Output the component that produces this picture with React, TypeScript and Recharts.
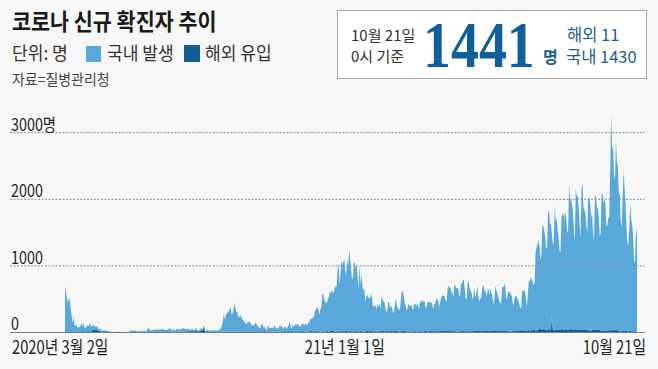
import React from 'react';
import { AreaChart, Area, XAxis, YAxis, ReferenceLine } from 'recharts';

const KR = "'Noto Sans CJK KR', 'Noto Sans', sans-serif";
const LIGHT = '#58a8da';
const DARK = '#125d98';

// daily confirmed cases (total), from 2020-03-02 to 2021-10-21
const total2020_03 = [686, 600, 516, 438, 518, 483, 367, 248, 131, 242, 114, 110, 107, 76, 74, 84, 93, 152, 87, 147, 98, 64, 76, 100, 104, 91, 146, 105, 78, 125];
const total2020_04 = [101, 89, 86, 94, 81, 47, 47, 53, 39, 27, 30, 32, 25, 27, 27, 22, 22, 18, 8, 8, 13, 9, 11, 8, 6, 10, 10, 14, 9, 4];
const total2020_05 = [9, 6, 13, 8, 3, 2, 4, 12, 18, 34, 35, 27, 26, 29, 27, 19, 13, 15, 13, 32, 12, 20, 23, 25, 16, 19, 40, 79, 58, 39, 27];
const total2020_06 = [35, 38, 49, 39, 39, 51, 57, 38, 38, 50, 45, 56, 49, 37, 34, 37, 43, 59, 49, 67, 48, 17, 46, 51, 28, 39, 51, 62, 42, 43];
const total2020_07 = [51, 54, 63, 63, 61, 48, 44, 63, 50, 45, 35, 44, 62, 33, 39, 61, 60, 39, 34, 26, 45, 63, 59, 41, 113, 58, 25, 28, 48, 18, 36];
const total2020_08 = [31, 30, 23, 34, 33, 43, 20, 36, 28, 34, 54, 56, 103, 166, 279, 197, 246, 297, 288, 324, 332, 397, 266, 280, 320, 441, 371, 323, 299, 248, 238];
const total2020_09 = [235, 267, 195, 198, 168, 167, 119, 136, 156, 155, 176, 136, 121, 109, 106, 113, 153, 126, 110, 82, 70, 61, 110, 125, 114, 61, 95, 50, 38, 113];
const total2020_10 = [77, 63, 75, 64, 73, 75, 114, 69, 54, 72, 58, 97, 102, 84, 110, 47, 73, 91, 76, 58, 89, 121, 155, 77, 61, 119, 88, 103, 125, 114, 127];
const total2020_11 = [124, 97, 75, 118, 125, 145, 89, 143, 126, 100, 146, 143, 191, 205, 208, 223, 230, 313, 343, 363, 386, 330, 271, 349, 382, 583, 569, 504, 450, 438];
const total2020_12 = [451, 511, 540, 629, 583, 631, 615, 594, 686, 682, 689, 950, 1030, 718, 880, 1078, 1014, 1064, 1097, 926, 869, 1092, 985, 1241, 1132, 970, 807, 808, 1045, 1050, 967];
const total2021_01 = [1029, 820, 657, 1020, 715, 870, 674, 641, 657, 451, 537, 562, 524, 513, 520, 580, 520, 389, 386, 404, 400, 346, 431, 392, 437, 349, 559, 497, 469, 456, 355];
const total2021_02 = [305, 336, 467, 451, 370, 393, 372, 289, 303, 444, 504, 403, 362, 344, 326, 457, 621, 621, 561, 448, 416, 332, 357, 440, 396, 406, 415, 355];
const total2021_03 = [344, 444, 424, 398, 424, 416, 346, 446, 470, 465, 488, 459, 469, 382, 363, 469, 445, 463, 452, 456, 415, 346, 428, 430, 494, 505, 482, 382, 447, 506, 551];
const total2021_04 = [557, 543, 543, 473, 477, 668, 700, 671, 677, 614, 587, 542, 731, 698, 673, 658, 672, 532, 549, 731, 735, 797, 785, 644, 499, 512, 769, 775, 661, 627];
const total2021_05 = [606, 488, 541, 676, 525, 574, 701, 564, 463, 511, 511, 635, 715, 681, 610, 619, 528, 654, 646, 561, 666, 585, 530, 415, 516, 707, 629, 587, 533, 480, 430];
const total2021_06 = [459, 677, 681, 695, 744, 556, 485, 602, 611, 610, 565, 556, 452, 399, 545, 540, 545, 507, 482, 429, 357, 395, 645, 610, 634, 614, 501, 382, 595, 794];
const total2021_07 = [762, 826, 794, 743, 711, 746, 1212, 1275, 1316, 1378, 1324, 1100, 1150, 1615, 1600, 1536, 1454, 1252, 1278, 1784, 1842, 1630, 1629, 1487, 1318, 1363, 1896, 1674, 1710, 1539, 1442];
const total2021_08 = [1219, 1202, 1725, 1775, 1776, 1704, 1823, 1728, 1492, 1537, 2223, 1987, 1990, 1930, 1817, 1556, 1372, 2152, 2050, 2052, 1880, 1628, 1418, 2155, 2236, 1882, 1841, 1793, 1619, 1487, 2024];
const total2021_09 = [2025, 1961, 1709, 1804, 1490, 1375, 2050, 2049, 1892, 1865, 1755, 1433, 1497, 2080, 2079, 1943, 2008, 1910, 1604, 1605, 1729, 1720, 2434, 3273, 2771, 2769, 2383, 2289, 2885, 2564];
const total2021_10 = [2486, 2085, 2086, 1673, 1575, 2028, 2427, 2175, 1953, 1594, 1297, 1347, 1583, 1940, 1684, 1618, 1420, 1050, 1073, 1571, 1441];

// imported cases (해외 유입)
const abroad2020_03 = [0, 1, 0, 2, 1, 1, 0, 2, 3, 4, 4, 6, 7, 8, 6, 13, 15, 18, 14, 22, 14, 13, 16, 21, 15, 20, 24, 11, 18, 36];
const abroad2020_04 = [36, 38, 40, 36, 29, 25, 24, 12, 16, 14, 18, 17, 17, 11, 9, 9, 8, 4, 3, 4, 5, 3, 2, 4, 4, 2, 4, 3, 2, 2];
const abroad2020_05 = [6, 3, 5, 5, 2, 2, 2, 1, 1, 1, 2, 1, 4, 2, 3, 4, 2, 5, 2, 6, 3, 3, 2, 3, 0, 6, 4, 0, 3, 0, 2];
const abroad2020_06 = [3, 3, 3, 6, 2, 1, 0, 1, 1, 3, 3, 4, 7, 6, 6, 3, 2, 4, 10, 8, 3, 6, 9, 10, 10, 8, 8, 20, 13, 11];
const abroad2020_07 = [15, 10, 10, 14, 18, 12, 11, 18, 6, 24, 26, 14, 21, 20, 13, 22, 26, 21, 16, 14, 26, 23, 25, 43, 86, 33, 13, 5, 25, 10, 16];
const abroad2020_08 = [13, 11, 12, 20, 10, 14, 7, 9, 8, 6, 6, 10, 13, 11, 12, 12, 9, 13, 5, 12, 8, 10, 7, 6, 12, 7, 7, 7, 7, 15, 12];
const abroad2020_09 = [9, 11, 6, 10, 2, 14, 11, 8, 4, 11, 15, 15, 15, 7, 7, 8, 11, 21, 12, 14, 5, 12, 11, 9, 8, 15, 22, 12, 11, 14];
const abroad2020_10 = [13, 7, 11, 9, 12, 9, 12, 12, 7, 16, 14, 6, 11, 7, 12, 6, 21, 18, 11, 11, 26, 18, 8, 21, 31, 18, 3, 13, 6, 11, 8];
const abroad2020_11 = [19, 21, 13, 15, 20, 21, 17, 11, 16, 11, 18, 18, 11, 22, 32, 16, 15, 18, 9, 24, 23, 15, 16, 11, 7, 16, 14, 20, 9, 13];
const abroad2020_12 = [31, 20, 9, 29, 23, 24, 25, 26, 7, 20, 17, 16, 11, 20, 17, 16, 22, 19, 19, 19, 32, 20, 15, 10, 27, 19, 19, 20, 10, 28, 20];
const abroad2021_01 = [16, 25, 16, 11, 30, 11, 16, 15, 16, 15, 31, 25, 16, 22, 32, 27, 25, 13, 19, 18, 20, 16, 13, 35, 11, 24, 28, 28, 20, 19, 19];
const abroad2021_02 = [22, 18, 20, 15, 23, 26, 19, 19, 19, 37, 27, 20, 16, 18, 10, 14, 17, 27, 28, 18, 14, 19, 16, 19, 12, 12, 20, 11];
const abroad2021_03 = [11, 24, 18, 13, 18, 13, 11, 18, 26, 10, 8, 18, 19, 21, 21, 18, 12, 18, 22, 27, 31, 15, 20, 13, 23, 18, 17, 17, 17, 24, 20];
const abroad2021_04 = [30, 28, 31, 18, 24, 27, 25, 23, 23, 14, 24, 16, 18, 21, 20, 15, 15, 18, 18, 19, 20, 33, 16, 16, 18, 21, 15, 18, 24, 10];
const abroad2021_05 = [22, 16, 29, 31, 22, 26, 34, 21, 21, 19, 27, 23, 31, 17, 22, 28, 33, 32, 13, 36, 22, 26, 34, 23, 24, 21, 32, 22, 18, 24, 18];
const abroad2021_06 = [22, 23, 23, 21, 26, 25, 12, 30, 19, 13, 19, 17, 20, 18, 22, 28, 18, 25, 31, 28, 46, 21, 24, 24, 22, 33, 25, 27, 34, 32];
const abroad2021_07 = [24, 36, 33, 32, 40, 58, 13, 40, 26, 54, 56, 54, 47, 37, 55, 49, 39, 37, 26, 62, 58, 42, 32, 270, 43, 45, 26, 45, 36, 39, 46];
const abroad2021_08 = [41, 33, 55, 52, 34, 39, 47, 48, 33, 44, 44, 48, 57, 46, 47, 40, 32, 64, 42, 42, 38, 38, 48, 48, 32, 37, 46, 50, 43, 32, 32];
const abroad2021_09 = [36, 24, 24, 52, 42, 37, 43, 42, 39, 48, 38, 37, 27, 35, 24, 30, 28, 37, 26, 30, 33, 41, 18, 51, 26, 36, 34, 40, 39, 35];
const abroad2021_10 = [42, 21, 15, 24, 16, 25, 33, 27, 21, 22, 17, 15, 27, 33, 16, 20, 18, 15, 24, 14, 11];

// [year, month, first day, totals, imported]
const monthRows: [number, number, number, number[], number[]][] = [
  [2020, 3, 2, total2020_03, abroad2020_03],
  [2020, 4, 1, total2020_04, abroad2020_04],
  [2020, 5, 1, total2020_05, abroad2020_05],
  [2020, 6, 1, total2020_06, abroad2020_06],
  [2020, 7, 1, total2020_07, abroad2020_07],
  [2020, 8, 1, total2020_08, abroad2020_08],
  [2020, 9, 1, total2020_09, abroad2020_09],
  [2020, 10, 1, total2020_10, abroad2020_10],
  [2020, 11, 1, total2020_11, abroad2020_11],
  [2020, 12, 1, total2020_12, abroad2020_12],
  [2021, 1, 1, total2021_01, abroad2021_01],
  [2021, 2, 1, total2021_02, abroad2021_02],
  [2021, 3, 1, total2021_03, abroad2021_03],
  [2021, 4, 1, total2021_04, abroad2021_04],
  [2021, 5, 1, total2021_05, abroad2021_05],
  [2021, 6, 1, total2021_06, abroad2021_06],
  [2021, 7, 1, total2021_07, abroad2021_07],
  [2021, 8, 1, total2021_08, abroad2021_08],
  [2021, 9, 1, total2021_09, abroad2021_09],
  [2021, 10, 1, total2021_10, abroad2021_10],
];

const yTicks = [0, 1000, 2000, 3000];
const yTickLabels = ['0', '1000', '2000', '3000명'];
const xTickDates = ['2020-03-02', '2021-01-01', '2021-10-21'];
const xTickLabels = ['2020년 3월 2일', '21년 1월 1일', '10월 21일'];

const pad = (n: number) => String(n).padStart(2, '0');

const data: { date: string; abroad: number; domestic: number }[] = [];
monthRows.forEach(([yr, mo, d0, totals, abroad]) => {
  totals.forEach((t, i) => {
    const a = abroad[i];
    data.push({ date: `${yr}-${pad(mo)}-${pad(d0 + i)}`, abroad: a, domestic: Math.max(0, t - a) });
  });
});

const yLabel = (text: string, lift: number) => (props: any) => {
  const vb = props.viewBox || {};
  return (
    <text
      transform={`translate(${vb.x + 1} ${vb.y - lift}) scale(0.82 1)`}
      fontFamily={KR}
      fontSize={17.5}
      fill="#222"
    >
      {text}
    </text>
  );
};

const XTick = (props: any) => {
  const { x, y, payload } = props;
  const i = xTickDates.indexOf(payload.value);
  if (i < 0) return null;
  const last = xTickDates.length - 1;
  const anchor = i === 0 ? 'start' : i === last ? 'end' : 'middle';
  const dx = i === 0 ? -53 : i === last ? 9 : -12;
  return (
    <text
      transform={`translate(${x + dx} ${y + 21.5}) scale(0.82 1)`}
      textAnchor={anchor}
      fontFamily={KR}
      fontSize={18}
      fill="#222"
    >
      {xTickLabels[i]}
    </text>
  );
};

const Txt = ({ left, top, size, scale = 1, color = '#333', weight = 400, family = KR, children }: any) => (
  <div
    style={{
      position: 'absolute',
      left,
      top,
      fontSize: size,
      lineHeight: 1,
      fontWeight: weight,
      fontFamily: family,
      color,
      whiteSpace: 'nowrap',
      transform: `scaleX(${scale})`,
      transformOrigin: 'left top',
    }}
  >
    {children}
  </div>
);

const App = () => {
  return (
    <div style={{ position: 'relative', width: 658, height: 369, background: '#f7f7f7', overflow: 'hidden', fontFamily: KR }}>
      <style>{'body{margin:0}'}</style>
      <div style={{ position: 'absolute', left: 0, top: 0 }}>
        <AreaChart width={658} height={369} data={data} margin={{ top: 112.7, right: 13, bottom: 6.5, left: 10 }}>
          <XAxis
            dataKey="date"
            ticks={xTickDates}
            interval={0}
            height={30}
            padding={{ left: 55, right: 8 }}
            tickLine={false}
            tickSize={0}
            tickMargin={0}
            axisLine={{ stroke: '#7a7a7a' }}
            tick={<XTick />}
          />
          <YAxis hide width={0} domain={[0, 3300]} ticks={yTicks} />
          <Area
            type="linear"
            dataKey="abroad"
            stackId="a"
            stroke="none"
            fill={DARK}
            fillOpacity={1}
            isAnimationActive={false}
          />
          <Area
            type="linear"
            dataKey="domestic"
            stackId="a"
            stroke="none"
            fill={LIGHT}
            fillOpacity={1}
            isAnimationActive={false}
          />
          {yTicks.map((v, i) => (
            <ReferenceLine
              key={v}
              y={v}
              stroke={v === 0 ? 'none' : '#8a8a8a'}
              strokeDasharray="2 1.5"
              label={yLabel(yTickLabels[i], v === 0 ? 3 : 2)}
            />
          ))}
        </AreaChart>
      </div>

      <Txt left={12} top={9} size={23} scale={0.9} weight={700} color="#1a1a1a">
        코로나 신규 확진자 추이
      </Txt>
      <Txt left={12} top={43} size={18} scale={0.95}>단위: 명</Txt>
      <div style={{ position: 'absolute', left: 86, top: 46, width: 15, height: 16, background: LIGHT }} />
      <Txt left={107} top={43} size={18} scale={0.95}>국내 발생</Txt>
      <div style={{ position: 'absolute', left: 184, top: 45, width: 16, height: 17, background: DARK }} />
      <Txt left={205} top={43} size={18} scale={0.95}>해외 유입</Txt>
      <Txt left={12} top={71} size={15} scale={0.93} color="#444">자료=질병관리청</Txt>

      <div
        style={{
          position: 'absolute',
          left: 337,
          top: 10,
          width: 310,
          height: 69,
          boxSizing: 'border-box',
          border: '1px solid #a8a8a8',
          background: '#ffffff',
        }}
      />
      <Txt left={351} top={26.5} size={15}>10월 21일</Txt>
      <Txt left={351} top={48} size={15}>0시 기준</Txt>
      <Txt left={423} top={12.5} size={65} scale={0.86} weight={700} color="#0f5f9c" family="'Liberation Serif', serif">
        1441
      </Txt>
      <Txt left={543} top={48} size={16} weight={700} color="#0f5f9c">명</Txt>
      <Txt left={567} top={25.5} size={16.5} color="#1f5b8f">해외 11</Txt>
      <Txt left={566} top={47.5} size={16.5} color="#1f5b8f">국내 1430</Txt>
    </div>
  );
};

export default App;
